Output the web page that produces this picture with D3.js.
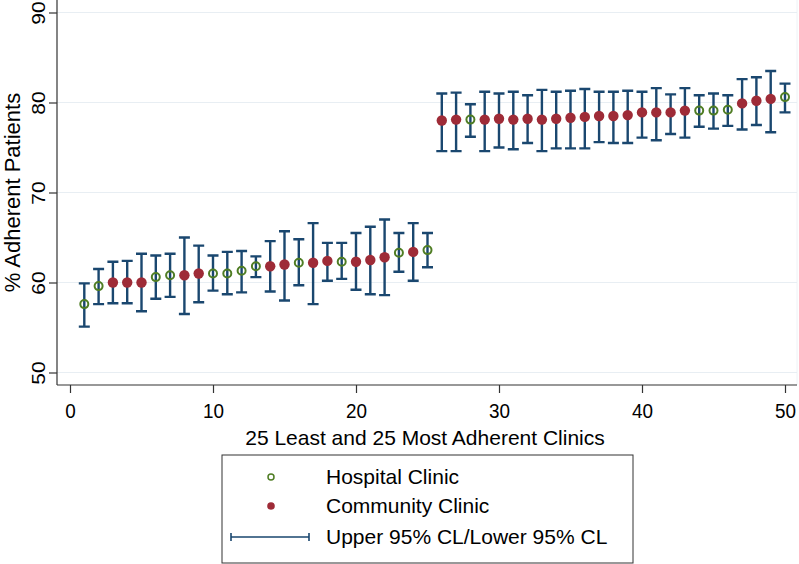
<!DOCTYPE html>
<html>
<head>
<meta charset="utf-8">
<script src="https://cdn.jsdelivr.net/npm/d3@7"></script>
<style>
  html, body { margin: 0; padding: 0; background: #fff; }
  svg { display: block; }
  text { font-family: "Liberation Sans", Arial, sans-serif; fill: #000; }
</style>
</head>
<body>
<svg id="chart" width="799" height="564"></svg>
<script>
// Clinic rank (x), clinic type, estimate and 95% CL
const clinics = d3.range(1, 51);
const clinicType = [
  "H","H","C","C","C","H","H","C","C","H",
  "H","H","H","C","C","H","C","C","H","C",
  "C","C","H","C","H","C","C","H","C","C",
  "C","C","C","C","C","C","C","C","C","C",
  "C","C","C","H","H","H","C","C","C","H"
];
const estimate = [
  57.6,59.6,60.0,60.0,60.0,60.6,60.8,60.8,61.0,61.0,
  61.0,61.3,61.8,61.8,62.0,62.2,62.2,62.4,62.3,62.3,
  62.5,62.8,63.3,63.4,63.6,78.0,78.1,78.1,78.1,78.2,
  78.1,78.2,78.1,78.2,78.3,78.4,78.5,78.5,78.6,78.9,
  78.9,78.9,79.1,79.1,79.1,79.2,79.9,80.2,80.4,80.6
];
const upperCL = [
  59.9,61.5,62.3,62.4,63.2,63.0,63.2,65.0,64.1,63.0,
  63.4,63.5,62.9,64.6,65.7,64.8,66.6,64.4,64.4,65.5,
  66.2,67.0,65.5,66.6,65.5,81.0,81.1,79.8,81.2,81.0,
  81.2,80.8,81.4,81.2,81.3,81.5,81.2,81.2,81.3,81.2,
  81.6,80.9,81.6,80.8,81.0,80.8,82.6,82.8,83.5,82.1
];
const lowerCL = [
  55.1,57.6,57.7,57.7,56.8,58.2,58.4,56.5,57.8,59.1,
  58.7,58.9,60.6,59.0,58.0,59.7,57.6,60.2,60.4,59.2,
  58.7,58.6,61.2,60.2,61.7,74.6,74.6,76.2,74.6,75.0,
  74.8,75.5,74.6,74.9,74.9,74.9,75.6,75.5,75.5,76.1,
  75.8,76.5,76.1,77.3,77.1,77.4,77.0,77.5,76.7,78.9
];
const xTicks = [0, 10, 20, 30, 40, 50];
const yTicks = [50, 60, 70, 80, 90];
const legendLabels = ["Hospital Clinic", "Community Clinic", "Upper 95% CL/Lower 95% CL"];
const xTitle = "25 Least and 25 Most Adherent Clinics";
const yTitle = "% Adherent Patients";

const data = clinics.map((c, i) => ({
  x: c, type: clinicType[i], est: estimate[i], hi: upperCL[i], lo: lowerCL[i]
}));

const colHosp = "#4f7d24";
const colComm = "#9e2b37";
const colCI = "#1a476f";
const colGrid = "#e8eef3";
const FS = 21;

const svg = d3.select("#chart");
const x = d3.scaleLinear().domain([0, 50]).range([70, 785]);
const y = d3.scaleLinear().domain([50, 90]).range([372.5, 12.5]);
const plotLeft = 57, plotRight = 797, plotTop = 0, plotBottom = 385;

// plot region faint edge
svg.append("line").attr("x1", plotRight).attr("x2", plotRight)
  .attr("y1", plotTop).attr("y2", plotBottom)
  .attr("stroke", "#eef2f6").attr("stroke-width", 1);

// gridlines
svg.append("g").selectAll("line").data(yTicks).join("line")
  .attr("x1", plotLeft).attr("x2", plotRight)
  .attr("y1", d => y(d)).attr("y2", d => y(d))
  .attr("stroke", colGrid).attr("stroke-width", 1.2);

// axes
const yAxis = d3.axisLeft(y).tickValues(yTicks).tickSize(8).tickPadding(4);
const gy = svg.append("g").attr("transform", `translate(${plotLeft},0)`).call(yAxis);
gy.select(".domain").attr("d", `M0,${plotTop}V${plotBottom}`).attr("stroke", "#333").attr("stroke-width", 1.2);
gy.selectAll(".tick line").attr("stroke", "#333").attr("stroke-width", 1.2);
gy.selectAll(".tick text")
  .attr("font-size", FS).attr("font-family", "Liberation Sans, Arial, sans-serif")
  .attr("text-anchor", "middle").attr("x", 0).attr("dy", 0)
  .attr("transform", "translate(-19,0) rotate(-90) scale(1,0.9)")
  .attr("dominant-baseline", "central");

const xAxis = d3.axisBottom(x).tickValues(xTicks).tickSize(8).tickPadding(5);
const gx = svg.append("g").attr("transform", `translate(0,${plotBottom})`).call(xAxis);
gx.select(".domain").attr("d", `M${plotLeft},0H${plotRight}`).attr("stroke", "#333").attr("stroke-width", 1.2);
gx.selectAll(".tick line").attr("stroke", "#333").attr("stroke-width", 1.2);
gx.selectAll(".tick text").attr("font-size", FS).attr("font-family", "Liberation Sans, Arial, sans-serif")
  .attr("y", 0).attr("dy", 0).attr("transform", "translate(0,33) scale(0.9,1)");

// titles
svg.append("text").attr("x", 425).attr("y", 445).attr("text-anchor", "middle")
  .attr("font-size", FS).text(xTitle);
svg.append("text").attr("transform", `translate(20,${(plotTop + plotBottom) / 2}) rotate(-90)`)
  .attr("text-anchor", "middle").attr("font-size", 22).text(yTitle);

// error bars
const cap = 5.5;
const eb = svg.append("g").attr("stroke", colCI).attr("stroke-width", 2.4).attr("fill", "none");
eb.selectAll("path").data(data).join("path")
  .attr("d", d => {
    const cx = x(d.x), t = y(d.hi), b = y(d.lo);
    return `M${cx - cap},${t}H${cx + cap}M${cx},${t}V${b}M${cx - cap},${b}H${cx + cap}`;
  });

// markers
const mk = svg.append("g");
mk.selectAll("circle.c").data(data.filter(d => d.type === "C")).join("circle")
  .attr("class", "c").attr("cx", d => x(d.x)).attr("cy", d => y(d.est))
  .attr("r", 5.2).attr("fill", colComm);
mk.selectAll("circle.h").data(data.filter(d => d.type === "H")).join("circle")
  .attr("class", "h").attr("cx", d => x(d.x)).attr("cy", d => y(d.est))
  .attr("r", 4).attr("fill", "none").attr("stroke", colHosp).attr("stroke-width", 2);

// legend
const lg = svg.append("g");
lg.append("rect").attr("x", 222).attr("y", 455).attr("width", 411).attr("height", 108)
  .attr("fill", "#fff").attr("stroke", "#333").attr("stroke-width", 1);
const rows = [477, 506, 537];
lg.append("circle").attr("cx", 271).attr("cy", rows[0]).attr("r", 3)
  .attr("fill", "none").attr("stroke", colHosp).attr("stroke-width", 1.5);
lg.append("circle").attr("cx", 271).attr("cy", rows[1]).attr("r", 3.8).attr("fill", colComm);
lg.append("path").attr("d", `M231,${rows[2]}H309M231,${rows[2] - 4}V${rows[2] + 4}M309,${rows[2] - 4}V${rows[2] + 4}`)
  .attr("stroke", colCI).attr("stroke-width", 1.6).attr("fill", "none");
lg.selectAll("text").data(legendLabels).join("text")
  .attr("x", 326).attr("y", (d, i) => rows[i]).attr("dy", "0.35em")
  .attr("font-size", FS).text(d => d);
</script>
</body>
</html>
